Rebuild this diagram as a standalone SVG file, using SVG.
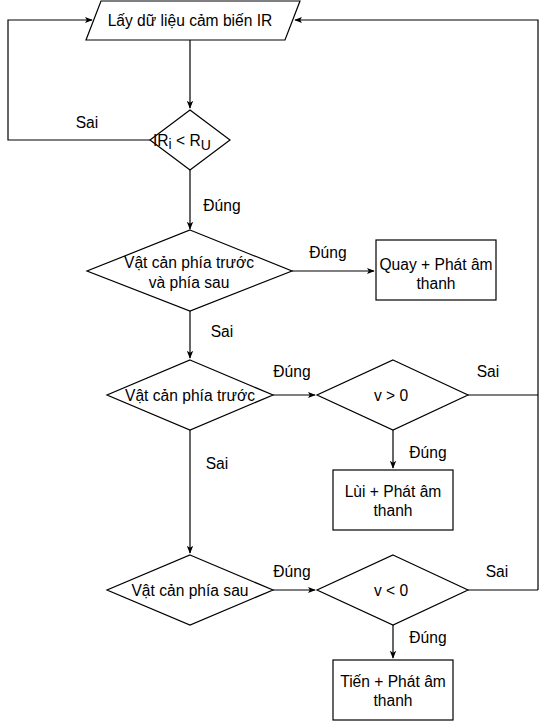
<svg xmlns="http://www.w3.org/2000/svg" width="547" height="722" viewBox="0 0 547 722">
<style>
.s{fill:#fff;stroke:#000;stroke-width:1.2}
.c{fill:none;stroke:#000;stroke-width:1.2}
text{font-family:"Liberation Sans",Arial,Helvetica,sans-serif;font-size:15.6px;fill:#000}
.m{text-anchor:middle}
</style>
<defs>
<marker id="a" viewBox="0 0 10 10" refX="9" refY="5" markerWidth="8" markerHeight="8" markerUnits="userSpaceOnUse" orient="auto">
<path d="M0,1 L10,5 L0,9 L2.5,5 Z" fill="#000"/>
</marker>
</defs>
<g id="connectors">
<path class="c" d="M190,40 V108" marker-end="url(#a)"/>
<path class="c" d="M150,140 H8 V20 H92" marker-end="url(#a)"/>
<path class="c" d="M190,170 V229" marker-end="url(#a)"/>
<path class="c" d="M292,271 H374" marker-end="url(#a)"/>
<path class="c" d="M190,311 V358" marker-end="url(#a)"/>
<path class="c" d="M273,395 H315" marker-end="url(#a)"/>
<path class="c" d="M468,395 H538"/>
<path class="c" d="M538,590 V20 H295" marker-end="url(#a)"/>
<path class="c" d="M393,430 V468" marker-end="url(#a)"/>
<path class="c" d="M190,430 V553" marker-end="url(#a)"/>
<path class="c" d="M273,590 H315" marker-end="url(#a)"/>
<path class="c" d="M468,590 H538"/>
<path class="c" d="M393,625 V658" marker-end="url(#a)"/>
<text class="m" x="87" y="128">Sai</text>
<text class="m" x="222" y="211">Đúng</text>
<text class="m" x="328" y="258">Đúng</text>
<text class="m" x="222" y="337">Sai</text>
<text class="m" x="292" y="377">Đúng</text>
<text class="m" x="488" y="377">Sai</text>
<text class="m" x="428" y="458">Đúng</text>
<text class="m" x="217" y="469">Sai</text>
<text class="m" x="292" y="577">Đúng</text>
<text class="m" x="497" y="577">Sai</text>
<text class="m" x="428" y="643">Đúng</text>
</g>
<g id="n1">
<polygon class="s" points="101,1 300,1 285,40 86,40"/>
<text class="m" x="190" y="26">Lấy dữ liệu cảm biến IR</text>
</g>
<g id="n2">
<polygon class="s" points="190,110 230,140 190,170 150,140"/>
<text x="153" y="146" font-size="16px">IR<tspan font-size="14px" dy="3">i</tspan><tspan dy="-3"> &lt; R</tspan><tspan font-size="14px" dy="4">U</tspan></text>
</g>
<g id="n3">
<polygon class="s" points="190,230 292,271 190,311 87,271"/>
<text class="m" x="189" y="268">Vật cản phía trước</text>
<text class="m" x="189" y="288">và phía sau</text>
</g>
<g id="n4">
<rect class="s" x="376" y="240" width="120" height="60"/>
<text class="m" x="436" y="270">Quay + Phát âm</text>
<text class="m" x="436" y="289">thanh</text>
</g>
<g id="n5">
<polygon class="s" points="190,360 273,395 190,430 107,395"/>
<text class="m" x="190" y="401">Vật cản phía trước</text>
</g>
<g id="n6">
<polygon class="s" points="393,360 468,395 393,430 317,395"/>
<text class="m" x="391" y="401">v &gt; 0</text>
</g>
<g id="n7">
<rect class="s" x="333" y="470" width="120" height="60"/>
<text class="m" x="393" y="497">Lùi + Phát âm</text>
<text class="m" x="393" y="516">thanh</text>
</g>
<g id="n8">
<polygon class="s" points="190,555 273,590 190,625 107,590"/>
<text class="m" x="190" y="596">Vật cản phía sau</text>
</g>
<g id="n9">
<polygon class="s" points="393,555 468,590 393,625 317,590"/>
<text class="m" x="391" y="596">v &lt; 0</text>
</g>
<g id="n10">
<rect class="s" x="333" y="660" width="120" height="60"/>
<text class="m" x="393" y="687">Tiến + Phát âm</text>
<text class="m" x="393" y="706">thanh</text>
</g>
</svg>
